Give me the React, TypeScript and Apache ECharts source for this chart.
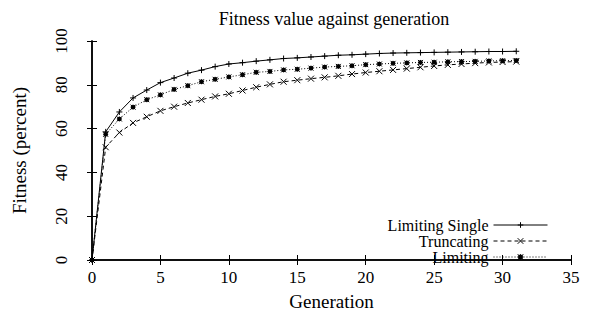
import React, { useEffect, useRef } from "react";
import * as echarts from "echarts";

const generations = [
  0, 1, 2, 3, 4, 5, 6, 7, 8, 9, 10, 11, 12, 13, 14, 15, 16, 17, 18, 19, 20,
  21, 22, 23, 24, 25, 26, 27, 28, 29, 30, 31,
];
const limitingSingle = [
  0, 58.5, 67.6, 74.0, 77.6, 81.0, 83.1, 85.3, 86.7, 88.3, 89.5, 90.1, 90.8,
  91.4, 92.0, 92.3, 92.7, 93.1, 93.5, 93.7, 94.0, 94.3, 94.5, 94.6, 94.7, 94.8,
  94.9, 95.0, 95.1, 95.2, 95.2, 95.3,
];
const truncating = [
  0, 51.5, 58.2, 62.6, 65.4, 68.1, 70.0, 71.7, 73.2, 74.7, 75.9, 77.4, 78.9,
  80.2, 81.4, 82.1, 82.8, 83.4, 84.1, 84.9, 85.6, 86.2, 86.8, 87.4, 88.0, 88.6,
  89.1, 89.5, 89.9, 90.2, 90.4, 90.6,
];
const limiting = [
  0, 57.4, 64.4, 69.8, 73.2, 75.4, 77.9, 79.6, 81.4, 82.5, 83.6, 84.6, 85.7,
  86.1, 86.8, 87.1, 87.6, 88.1, 88.4, 88.7, 89.2, 89.5, 89.8, 90.0, 90.2, 90.3,
  90.5, 90.6, 90.7, 90.9, 91.0, 91.1,
];
const seriesNames = ["Limiting Single", "Truncating", "Limiting"];
const titleText = "Fitness value against generation";
const xName = "Generation";
const yName = "Fitness (percent)";

const FONT = "'Liberation Serif', 'Times New Roman', serif";

const plusSym = "path://M0,5L10,5M5,0L5,10";
const crossSym = "path://M0,0L10,10M10,0L0,10";
const starSym = "path://M0,0L10,10M10,0L0,10M0,5L10,5M5,0L5,10M2,2L8,2L8,8L2,8Z";

export default function App() {
  const ref = useRef<HTMLDivElement>(null);
  useEffect(() => {
    if (!ref.current) return;
    const chart = echarts.init(ref.current, null, { renderer: "svg" });
    const pair = (ys: number[]) => generations.map((g, i) => [g, ys[i]]);
    const axisLine = { show: true, lineStyle: { color: "#000", width: 1.5 } };
    const tick = { show: true, inside: true, length: 5, lineStyle: { color: "#000", width: 1 } };
    const mk = (name: string, ys: number[], sym: string, type: any, size: number) => ({
      name,
      type: "line",
      data: pair(ys),
      xAxisIndex: 0,
      yAxisIndex: 0,
      symbol: sym,
      symbolSize: size,
      showSymbol: true,
      lineStyle: { color: "#000", width: 1, type },
      itemStyle: { color: "#000", borderColor: "#000", borderWidth: 1 },
      emphasis: { disabled: true },
    });
    chart.setOption({
      animation: false,
      backgroundColor: "#fff",
      title: {
        text: titleText,
        left: 329,
        textAlign: "center",
        top: 5,
        textStyle: { fontFamily: FONT, fontSize: 18, fontWeight: "normal", color: "#000" },
      },
      grid: { left: 92, right: 23, top: 41, bottom: 49, containLabel: false },
      legend: {
        orient: "vertical",
        right: 41,
        top: 212,
        align: "right",
        itemWidth: 54,
        itemHeight: 7,
        itemGap: 0,
        data: seriesNames,
        lineStyle: { width: 1 },
        itemStyle: { borderWidth: 1 },
        textStyle: { fontFamily: FONT, fontSize: 16, color: "#000" },
      },
      xAxis: [
        {
          type: "value",
          min: 0,
          max: 35,
          interval: 5,
          name: xName,
          nameLocation: "middle",
          nameGap: 32,
          nameTextStyle: { fontFamily: FONT, fontSize: 19, color: "#000" },
          axisLine,
          axisTick: tick,
          splitLine: { show: false },
          axisLabel: { fontFamily: FONT, fontSize: 17, color: "#000", margin: 9 },
        },
        {
          type: "value",
          position: "top",
          min: 0,
          max: 35,
          interval: 5,
          axisLine,
          axisTick: tick,
          splitLine: { show: false },
          axisLabel: { show: false },
        },
      ],
      yAxis: [
        {
          type: "value",
          min: 0,
          max: 100,
          interval: 20,
          name: yName,
          nameLocation: "middle",
          nameGap: 63,
          nameTextStyle: { fontFamily: FONT, fontSize: 19, color: "#000" },
          axisLine,
          axisTick: tick,
          splitLine: { show: false },
          axisLabel: { fontFamily: FONT, fontSize: 17, color: "#000", rotate: 90, margin: 22 },
        },
        {
          type: "value",
          position: "right",
          min: 0,
          max: 100,
          interval: 20,
          axisLine,
          axisTick: tick,
          splitLine: { show: false },
          axisLabel: { show: false },
        },
      ],
      series: [
        mk(seriesNames[0], limitingSingle, plusSym, "solid", 6),
        mk(seriesNames[1], truncating, crossSym, [4, 3], 6),
        mk(seriesNames[2], limiting, starSym, [1, 2], 5),
      ],
    });
    return () => chart.dispose();
  }, []);
  return (
    <div
      ref={ref}
      style={{ position: "fixed", left: 0, top: 0, width: 594, height: 316, background: "#fff" }}
    />
  );
}
